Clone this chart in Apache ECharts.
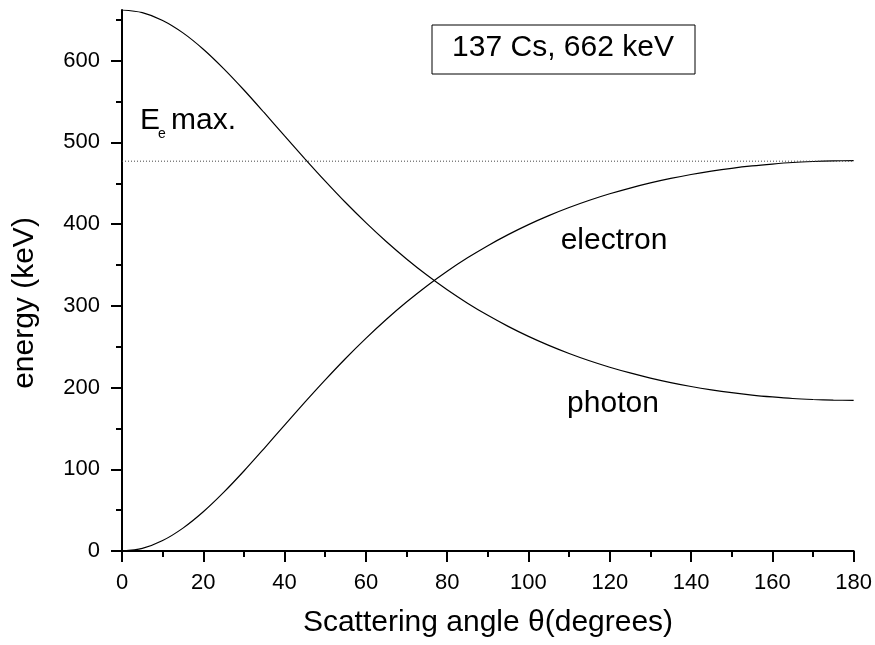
<!DOCTYPE html>
<html>
<head>
<meta charset="utf-8">
<script src="https://cdn.jsdelivr.net/npm/echarts@6/dist/echarts.min.js"></script>
<style>
  html, body { margin: 0; padding: 0; background: #fff; }
  #chart { width: 875px; height: 645px; }
</style>
</head>
<body>
<div id="chart"></div>
<script>
// values (every 5 degrees)
const angles = [0, 5, 10, 15, 20, 25, 30, 35, 40, 45, 50, 55, 60, 65, 70, 75, 80, 85, 90,
  95, 100, 105, 110, 115, 120, 125, 130, 135, 140, 145, 150, 155, 160, 165, 170, 175, 180];
const photon = [662, 658.8, 649.2, 634.0, 614.0, 590.3, 564.1, 536.3, 508.0, 479.9, 452.6, 426.4, 401.8,
  378.7, 357.4, 337.7, 319.7, 303.3, 288.4, 274.9, 262.6, 251.6, 241.7, 232.8, 224.9, 217.9, 211.6,
  206.1, 201.3, 197.2, 193.7, 190.8, 188.5, 186.6, 185.4, 184.6, 184.3];
const electron = [0, 3.2, 12.8, 28.0, 48.0, 71.7, 97.9, 125.7, 154.0, 182.1, 209.4, 235.6, 260.2,
  283.3, 304.6, 324.3, 342.3, 358.7, 373.6, 387.1, 399.4, 410.4, 420.3, 429.2, 437.1, 444.1, 450.4,
  455.9, 460.7, 464.8, 468.3, 471.2, 473.5, 475.4, 476.6, 477.4, 477.7];
const emaxAngles = [0, 180];
const emaxValues = [477, 477];
const yMajorTicks = [0, 100, 200, 300, 400, 500, 600];
const yMinorTicks = [50, 150, 250, 350, 450, 550, 650];

const font = '"Liberation Sans", Arial, sans-serif';
const chart = echarts.init(document.getElementById('chart'));

const pairs = (xs, ys) => xs.map((x, i) => [x, ys[i]]);

const option = {
  animation: false,
  textStyle: { fontFamily: font },
  grid: { left: 122, right: 21, top: 10, bottom: 94 },
  xAxis: {
    type: 'value',
    min: 0,
    max: 180,
    interval: 20,
    axisLine: { lineStyle: { color: '#000', width: 2 } },
    axisTick: { length: 11, lineStyle: { color: '#000', width: 2 } },
    minorTick: { show: true, splitNumber: 2, length: 6, lineStyle: { color: '#000', width: 2 } },
    splitLine: { show: false },
    axisLabel: { color: '#000', fontSize: 22, margin: 21, fontFamily: font }
  },
  yAxis: [
    {
      type: 'value',
      min: 0,
      max: 662,
      position: 'left',
      axisLine: { show: true, lineStyle: { color: '#000', width: 2 } },
      axisTick: { show: true, length: 11, customValues: yMajorTicks, lineStyle: { color: '#000', width: 2 } },
      splitLine: { show: false },
      axisLabel: { color: '#000', fontSize: 22, margin: 22, customValues: yMajorTicks, fontFamily: font }
    },
    {
      // minor ticks only
      type: 'value',
      min: 0,
      max: 662,
      position: 'left',
      axisLine: { show: false },
      axisTick: { show: true, length: 6, customValues: yMinorTicks, lineStyle: { color: '#000', width: 2 } },
      splitLine: { show: false },
      axisLabel: { show: false }
    }
  ],
  series: [
    {
      name: 'photon',
      type: 'line',
      yAxisIndex: 0,
      data: pairs(angles, photon),
      smooth: 0.3,
      showSymbol: false,
      lineStyle: { color: '#000', width: 1.2 }
    },
    {
      name: 'electron',
      type: 'line',
      yAxisIndex: 0,
      data: pairs(angles, electron),
      smooth: 0.3,
      showSymbol: false,
      lineStyle: { color: '#000', width: 1.2 }
    },
    {
      name: 'Ee max',
      type: 'line',
      yAxisIndex: 0,
      data: pairs(emaxAngles, emaxValues),
      showSymbol: false,
      lineStyle: { color: '#444', width: 1, type: [1, 2] }
    }
  ],
  graphic: [
    {
      type: 'rect',
      shape: { x: 432, y: 25, width: 263, height: 49 },
      style: { fill: '#fff', stroke: '#000', lineWidth: 1 }
    },
    {
      type: 'text', x: 563, y: 48,
      style: { text: '137 Cs, 662 keV', font: '30px ' + font, fill: '#000', align: 'center', verticalAlign: 'middle' }
    },
    {
      type: 'text', x: 140, y: 121,
      style: { text: 'E', font: '30px ' + font, fill: '#000', align: 'left', verticalAlign: 'middle' }
    },
    {
      type: 'text', x: 158, y: 134,
      style: { text: 'e', font: '14px ' + font, fill: '#000', align: 'left', verticalAlign: 'middle' }
    },
    {
      type: 'text', x: 171, y: 121,
      style: { text: 'max.', font: '30px ' + font, fill: '#000', align: 'left', verticalAlign: 'middle' }
    },
    {
      type: 'text', x: 614, y: 241,
      style: { text: 'electron', font: '30px ' + font, fill: '#000', align: 'center', verticalAlign: 'middle' }
    },
    {
      type: 'text', x: 613, y: 404,
      style: { text: 'photon', font: '30px ' + font, fill: '#000', align: 'center', verticalAlign: 'middle' }
    },
    {
      type: 'text', x: 488, y: 623,
      style: { text: 'Scattering angle θ(degrees)', font: '30px ' + font, fill: '#000', align: 'center', verticalAlign: 'middle' }
    },
    {
      type: 'text', x: 25, y: 303, rotation: Math.PI / 2,
      style: { text: 'energy (keV)', font: '30px ' + font, fill: '#000', align: 'center', verticalAlign: 'middle' }
    }
  ]
};

chart.setOption(option);
window.addEventListener('resize', function () {
  chart.resize();
});
</script>
</body>
</html>
